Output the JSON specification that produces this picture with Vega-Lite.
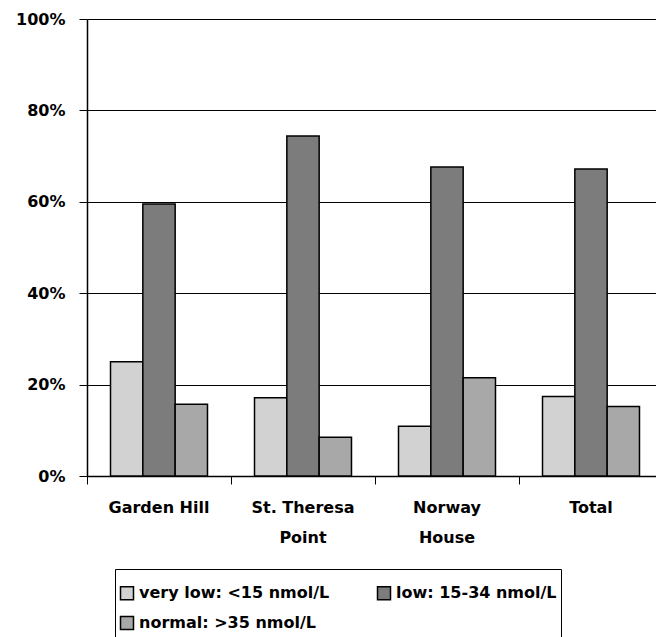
{
  "$schema": "https://vega.github.io/schema/vega-lite/v6.json",
  "width": 576,
  "height": 457,
  "autosize": {"type": "none"},
  "padding": {"left": 87, "top": 19, "right": -7, "bottom": 161},
  "background": "white",
  "config": {
    "view": {"stroke": null},
    "font": "DejaVu Sans",
    "axis": {"labelFont": "DejaVu Sans", "labelFontWeight": "bold", "labelColor": "black", "labelFontSize": 16}
  },
  "data": {
    "values": [
      {"site": "Garden Hill", "level": "very low: <15 nmol/L", "pct": 0.25},
      {"site": "Garden Hill", "level": "low: 15-34 nmol/L", "pct": 0.595},
      {"site": "Garden Hill", "level": "normal: >35 nmol/L", "pct": 0.157},
      {"site": "St. Theresa Point", "level": "very low: <15 nmol/L", "pct": 0.171},
      {"site": "St. Theresa Point", "level": "low: 15-34 nmol/L", "pct": 0.744},
      {"site": "St. Theresa Point", "level": "normal: >35 nmol/L", "pct": 0.085},
      {"site": "Norway House", "level": "very low: <15 nmol/L", "pct": 0.109},
      {"site": "Norway House", "level": "low: 15-34 nmol/L", "pct": 0.676},
      {"site": "Norway House", "level": "normal: >35 nmol/L", "pct": 0.215},
      {"site": "Total", "level": "very low: <15 nmol/L", "pct": 0.174},
      {"site": "Total", "level": "low: 15-34 nmol/L", "pct": 0.672},
      {"site": "Total", "level": "normal: >35 nmol/L", "pct": 0.152}
    ]
  },
  "mark": {"type": "bar", "stroke": "black", "strokeWidth": 1.5},
  "encoding": {
    "x": {
      "field": "site", "type": "nominal",
      "sort": ["Garden Hill", "St. Theresa Point", "Norway House", "Total"],
      "scale": {"paddingInner": 0, "paddingOuter": 0},
      "axis": {
        "title": null, "labelAngle": 0, "ticks": true, "tickSize": 8, "tickColor": "black",
        "bandPosition": 0,
        "domainColor": "black", "domainWidth": 1.5,
        "labelPadding": 15, "labelBaseline": "top", "labelLineHeight": 30, "labelLimit": 300,
        "labelExpr": "datum.label == 'St. Theresa Point' ? ['St. Theresa', 'Point'] : datum.label == 'Norway House' ? ['Norway', 'House'] : datum.label"
      }
    },
    "xOffset": {
      "field": "level", "type": "nominal",
      "sort": ["very low: <15 nmol/L", "low: 15-34 nmol/L", "normal: >35 nmol/L"],
      "scale": {"paddingInner": 0, "paddingOuter": 0.727}
    },
    "y": {
      "field": "pct", "type": "quantitative",
      "scale": {"domain": [0, 1]},
      "axis": {
        "title": null, "tickCount": 5, "format": ".0%",
        "grid": true, "gridColor": "black", "gridOpacity": 1,
        "tickColor": "black", "tickSize": 8,
        "domainColor": "black", "domainWidth": 1.5,
        "labelPadding": 14
      }
    },
    "color": {
      "field": "level", "type": "nominal",
      "sort": ["very low: <15 nmol/L", "low: 15-34 nmol/L", "normal: >35 nmol/L"],
      "scale": {"range": ["#d2d2d2", "#7c7c7c", "#a8a8a8"]},
      "legend": {
        "orient": "none", "legendX": 28, "legendY": 550,
        "title": " ", "titleFontSize": 2, "titlePadding": 10,
        "columns": 2, "direction": "horizontal",
        "strokeColor": "black", "fillColor": "white",
        "padding": 4, "rowPadding": 10, "columnPadding": 44,
        "symbolType": "square", "symbolSize": 169,
        "symbolStrokeColor": "black",
        "labelFont": "DejaVu Sans", "labelFontWeight": "bold", "labelFontSize": 16,
        "labelColor": "black", "labelOffset": 4, "labelLimit": 400
      }
    }
  }
}
